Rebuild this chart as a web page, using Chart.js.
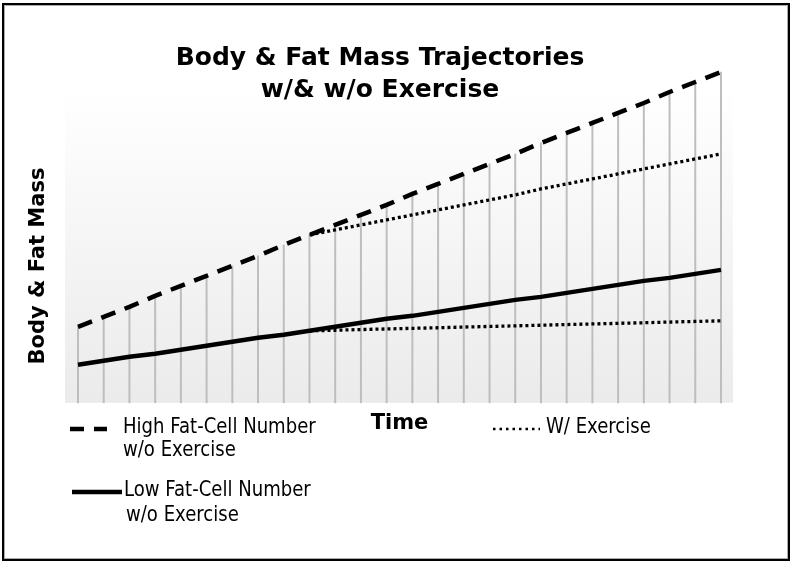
<!DOCTYPE html>
<html>
<head>
<meta charset="utf-8">
<script src="https://cdn.jsdelivr.net/npm/chart.js@4.4.1/dist/chart.umd.min.js"></script>
<style>
html,body{margin:0;padding:0;background:#fff;}
#wrap{position:relative;width:793px;height:564px;}
canvas{display:block;}
</style>
</head>
<body>
<div id="wrap"><canvas id="c" width="793" height="564"></canvas></div>
<script>
// ---- data ----
const timeLabels = ['1','2','3','4','5','6','7','8','9','10','11','12','13','14','15','16','17','18','19','20','21','22','23','24','25','26'];
const highNoExercise = [76, 86, 96, 107, 117, 127, 137, 147, 158, 168, 178, 188, 198, 209, 219, 229, 239, 249, 260, 270, 280, 290, 300, 311, 321, 331];
const lowNoExercise = [38, 42, 46, 49, 53, 57, 61, 65, 68, 72, 76, 80, 84, 87, 91, 95, 99, 103, 106, 110, 114, 118, 122, 125, 129, 133];
const highWithExercise = [null, null, null, null, null, null, null, null, null, 168, 173, 178, 183, 188, 193, 198, 203, 208, 214, 219, 224, 229, 234, 239, 244, 249];
const lowWithExercise = [null, null, null, null, null, null, null, null, null, 72, 72.6, 73.3, 73.9, 74.5, 75.1, 75.8, 76.4, 77, 77.6, 78.3, 78.9, 79.5, 80.1, 80.8, 81.4, 82];

const chartTitle = ['Body & Fat Mass Trajectories', 'w/& w/o Exercise'];
const yAxisTitle = 'Body & Fat Mass';
const xAxisTitle = 'Time';
const legendHigh = ['High Fat-Cell Number', 'w/o Exercise'];
const legendLow = ['Low Fat-Cell Number', 'w/o Exercise'];
const legendEx = ['W/ Exercise'];

const LEGEND_FONT = '21px "DejaVu Sans", sans-serif';
const LEGEND_SQUEEZE = 0.86;

const bgPlugin = {
  id: 'bgPlugin',
  beforeDraw(chart) {
    const ctx = chart.ctx;
    const a = chart.chartArea;
    ctx.save();
    ctx.fillStyle = '#ffffff';
    ctx.fillRect(0, 0, chart.width, chart.height);
    const x1 = a.left - 13, x2 = a.right + 12, y1 = a.top + 24, y2 = a.bottom;
    const g = ctx.createLinearGradient(0, y1, 0, y2);
    g.addColorStop(0, '#ffffff');
    g.addColorStop(1, '#ebebeb');
    ctx.fillStyle = g;
    ctx.fillRect(x1, y1, x2 - x1, y2 - y1);
    ctx.restore();
  }
};

const decorPlugin = {
  id: 'decorPlugin',
  afterDraw(chart) {
    const ctx = chart.ctx;
    ctx.save();
    // y axis title
    ctx.fillStyle = '#000';
    ctx.font = 'bold 21px "DejaVu Sans", sans-serif';
    ctx.textAlign = 'center';
    ctx.textBaseline = 'middle';
    ctx.translate(39, 266);
    ctx.rotate(-Math.PI / 2);
    ctx.fillText(yAxisTitle, 0, 0);
    ctx.restore();

    // legend
    ctx.save();
    ctx.strokeStyle = '#000';
    ctx.fillStyle = '#000';
    ctx.lineCap = 'butt';
    function sample(xa, xb, y, w, dash) {
      ctx.beginPath();
      ctx.lineWidth = w;
      ctx.setLineDash(dash);
      ctx.moveTo(xa, y);
      ctx.lineTo(xb, y);
      ctx.stroke();
    }
    sample(70, 107, 429, 4.5, [14, 10]);
    sample(72, 122, 492, 4.5, []);
    sample(493, 540, 429, 2.5, [2.5, 4]);
    ctx.setLineDash([]);
    ctx.font = LEGEND_FONT;
    ctx.textAlign = 'left';
    ctx.textBaseline = 'middle';
    function txt(s, x, y) {
      ctx.save();
      ctx.translate(x, y);
      ctx.scale(LEGEND_SQUEEZE, 1);
      ctx.fillText(s, 0, 0);
      ctx.restore();
    }
    txt(legendHigh[0], 123, 428);
    txt(legendHigh[1], 123, 451);
    txt(legendLow[0], 124, 491);
    txt(legendLow[1], 126, 516);
    txt(legendEx[0], 546, 428);

    // outer frame
    ctx.strokeStyle = '#aaaaaa';
    ctx.lineWidth = 1;
    ctx.strokeRect(4.5, 5.5, 783, 553);
    ctx.strokeStyle = '#000';
    ctx.lineWidth = 2;
    ctx.strokeRect(3, 4, 786, 556);
    ctx.restore();
  }
};

new Chart(document.getElementById('c'), {
  type: 'line',
  data: {
    labels: timeLabels,
    datasets: [
      {
        label: 'High Fat-Cell Number w/o Exercise',
        data: highNoExercise,
        borderColor: '#000',
        borderWidth: 4.5,
        borderDash: [15, 10],
        pointRadius: 0,
        tension: 0,
        fill: false,
        clip: false,
        order: 2
      },
      {
        label: 'Low Fat-Cell Number w/o Exercise',
        data: lowNoExercise,
        borderColor: '#000',
        borderWidth: 4.5,
        pointRadius: 0,
        tension: 0,
        fill: false,
        clip: false,
        order: 2
      },
      {
        label: 'High Fat-Cell Number W/ Exercise',
        data: highWithExercise,
        borderColor: '#000',
        borderWidth: 3.3,
        borderDash: [3, 3],
        pointRadius: 0,
        tension: 0,
        fill: false,
        clip: false,
        order: 3
      },
      {
        label: 'Low Fat-Cell Number W/ Exercise',
        data: lowWithExercise,
        borderColor: '#000',
        borderWidth: 3.3,
        borderDash: [3, 3],
        pointRadius: 0,
        tension: 0,
        fill: false,
        clip: false,
        order: 3
      },
      {
        type: 'bar',
        label: 'drop lines',
        data: highNoExercise,
        backgroundColor: '#bdbdbd',
        borderWidth: 0,
        barThickness: 1.3,
        clip: false,
        order: 10
      }
    ]
  },
  options: {
    responsive: false,
    animation: false,
    layout: { padding: { left: 39, right: 72, top: 0, bottom: 128 } },
    plugins: {
      legend: { display: false },
      tooltip: { enabled: false },
      title: {
        display: true,
        text: chartTitle,
        color: '#000',
        font: { family: '"DejaVu Sans", sans-serif', weight: 'bold', size: 25, lineHeight: 1.28 },
        padding: { top: 42, bottom: -43 }
      }
    },
    scales: {
      x: {
        type: 'category',
        offset: false,
        grid: { display: false, drawTicks: false },
        border: { display: false },
        ticks: { display: false },
        title: {
          display: true,
          text: xAxisTitle,
          color: '#000',
          font: { family: '"DejaVu Sans", sans-serif', weight: 'bold', size: 21, lineHeight: 1.2 },
          padding: { top: 8, bottom: 0 }
        }
      },
      y: {
        min: 0,
        max: 340,
        grid: { display: false, drawTicks: false },
        border: { display: false },
        ticks: { display: false },
        title: { display: false },
        afterFit(scale) { scale.width = 39; }
      }
    }
  },
  plugins: [bgPlugin, decorPlugin]
});
</script>
</body>
</html>
